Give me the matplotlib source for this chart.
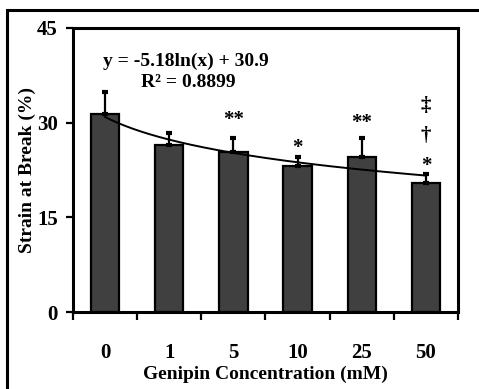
import numpy as np
import matplotlib
matplotlib.use("Agg")
import matplotlib.pyplot as plt
from matplotlib.patches import Rectangle

# data
concentrations = ["0", "1", "5", "10", "25", "50"]
strain_mean = [31.3, 26.4, 25.3, 23.1, 24.6, 20.5]
strain_err = [3.6, 1.9, 2.3, 1.4, 3.0, 1.4]
sig_marks = ["", "", "**", "*", "**", "*"]
sig_y = [0, 0, 30.4, 26.0, 30.0, 23.1]
extra_marks = ["\u2020", "\u2021"]
extra_y = [27.9, 32.7]
fit_a, fit_b = -5.18, 30.9

plt.rcParams["font.family"] = ["Liberation Serif", "DejaVu Serif"]
plt.rcParams["font.weight"] = "bold"

fig = plt.figure(figsize=(4.79, 3.89), dpi=100)
ax = fig.add_axes([73 / 479, 1 - 312 / 389, 385 / 479, 284 / 389])

x = np.arange(len(concentrations))
ax.bar(x, strain_mean, width=0.44, color="#404040", edgecolor="black",
       linewidth=1.6, zorder=2)
ax.errorbar(x, strain_mean, yerr=[np.zeros(len(x)), strain_err], fmt="none",
            ecolor="black", elinewidth=1.6, capsize=2.2, capthick=3, zorder=3)

# excel style log trendline (x = 1..n)
xs = np.linspace(1, len(x), 200)
ax.plot(xs - 1, fit_a * np.log(xs) + fit_b, color="black", lw=1.4, zorder=4)

for i, m in enumerate(sig_marks):
    if m:
        ax.text(i, sig_y[i], m, ha="center", va="center", fontsize=15,
                fontweight="bold")
for m, yy in zip(extra_marks, extra_y):
    ax.text(5, yy, m, ha="center", va="center", fontsize=15, fontweight="bold")

ax.text(1.26, 39.7, "y = -5.18ln(x) + 30.9", ha="center", va="center",
        fontsize=14, fontweight="bold")
ax.text(1.30, 36.4, "R\u00b2 = 0.8899", ha="center", va="center",
        fontsize=14, fontweight="bold")

ax.set_xlim(-0.5, 5.5)
ax.set_ylim(0, 45)
ax.set_yticks([0, 15, 30, 45])
ax.set_xticks(x)
ax.set_xticklabels(concentrations)
ax.set_xticks(np.arange(-0.5, 6, 1), minor=True)
ax.tick_params(axis="x", which="major", length=0, pad=22, labelsize=15)
ax.tick_params(axis="x", which="minor", length=6, width=1.6, direction="out")
ax.tick_params(axis="y", length=5, width=1.6, pad=6, labelsize=15)
for s in ax.spines.values():
    s.set_linewidth(2.2)

ax.set_ylabel("Strain at Break (%)", fontsize=14, fontweight="bold")
ax.yaxis.set_label_coords(-0.097, 0.5)
ax.set_xlabel("Genipin Concentration (mM)", fontsize=14, fontweight="bold")
ax.xaxis.set_label_coords(0.5, -0.19)

# outer frame of the original figure
fig.patches.append(Rectangle((7 / 479, -0.1), 1.2, 1 - 10 / 389 + 0.1,
                             transform=fig.transFigure, fill=False,
                             edgecolor="black", linewidth=2.2))

fig.savefig("out.png", dpi=100)
